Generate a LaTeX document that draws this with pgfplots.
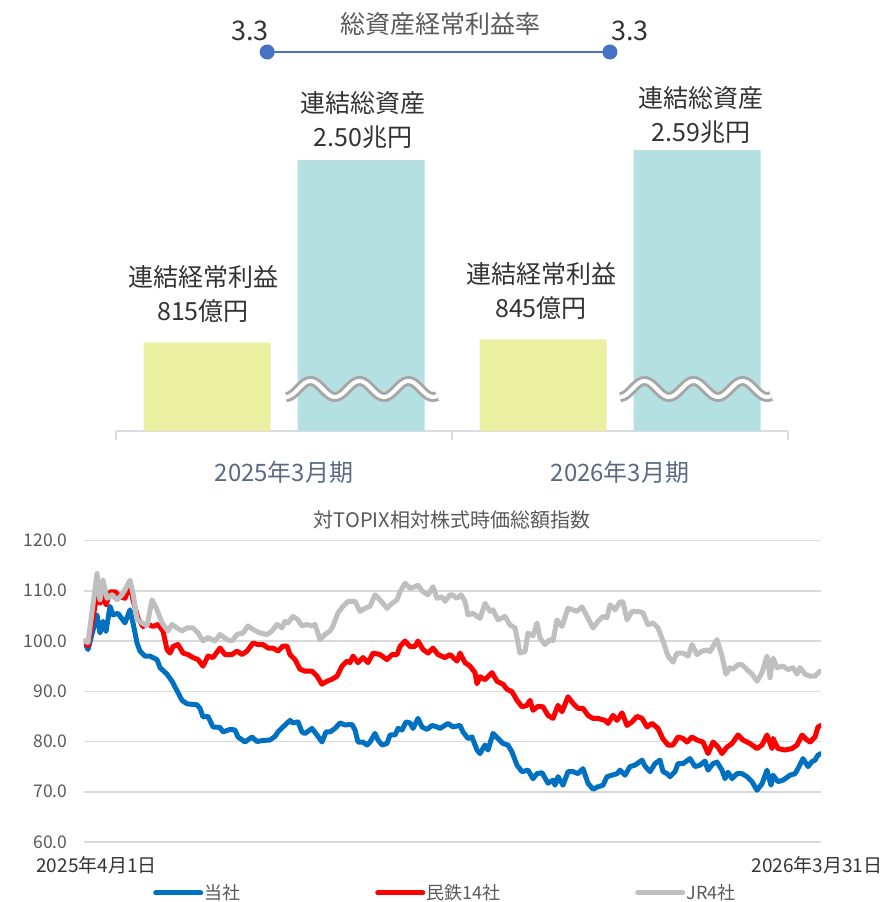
\documentclass[border=0pt]{standalone}
\usepackage{fontspec}
\setmainfont{Noto Sans CJK JP}
\usepackage{pgfplots}
\pgfplotsset{compat=1.18}

\definecolor{ybarc}{HTML}{EBEFA0}
\definecolor{cbarc}{HTML}{B4E0E2}
\definecolor{lineblue}{HTML}{4472C4}
\definecolor{axisgray}{HTML}{D9DDE3}
\definecolor{catgray}{HTML}{5A6A85}
\definecolor{textgray}{HTML}{595959}
\definecolor{darktext}{HTML}{333333}
\definecolor{gridgray}{HTML}{D9D9D9}
\definecolor{breakgray}{HTML}{A6A6A6}
\definecolor{tosha}{HTML}{0070C0}
\definecolor{mintetsu}{HTML}{FF0000}
\definecolor{jr}{HTML}{BFBFBF}

\begin{document}
\begin{tikzpicture}[x=1pt,y=1pt]
\path[use as bounding box] (0,0) rectangle (887,902);

% ---- top: bars with broken axis ----
\begin{axis}[
    at={(116pt,471pt)}, anchor=south west,
    scale only axis, width=672pt, height=400pt,
    xmin=-0.5, xmax=1.5, ymin=0, ymax=3687,
    ybar, bar width=127pt,
    axis y line=none, axis x line*=bottom,
    x axis line style={draw=axisgray, line width=1.5pt, -},
    xtick={-0.5,0.5,1.5}, xticklabels={},
    tick align=outside, major tick length=9pt,
    xtick style={draw=axisgray, line width=1.5pt},
    clip=false]
\addplot[fill=ybarc, draw=none, bar shift=-77pt] coordinates {(0,815) (1,845)};
\addplot[fill=cbarc, draw=none, bar shift=77pt] coordinates {(0,2500) (1,2590)};
\end{axis}

% break marks on the total-assets bars
\foreach \xs in {286,620} {
  \draw[breakgray, line width=10pt] plot[domain=0:151, samples=80, smooth] ({\xs+\x}, {513-8*cos(\x/49*360)});
  \draw[white, line width=4pt] plot[domain=0:151, samples=80, smooth] ({\xs+\x}, {513-8*cos(\x/49*360)});
}

% ratio line
\begin{axis}[
    at={(116pt,471pt)}, anchor=south west,
    scale only axis, width=672pt, height=400pt,
    xmin=-0.5, xmax=1.5, ymin=0, ymax=3.483,
    hide axis, clip=false]
\addplot[lineblue, line width=2pt, mark=*, mark size=6.5pt, mark options={fill=lineblue, draw=lineblue}]
  coordinates {(-0.05,3.3) (0.97,3.3)};
\node[darktext, font=\fontsize{27}{30}\selectfont, xshift=-17pt, yshift=21pt] at (axis cs:-0.05,3.3) {3.3};
\node[darktext, font=\fontsize{27}{30}\selectfont, xshift=20pt, yshift=21pt] at (axis cs:0.97,3.3) {3.3};
\end{axis}

\node[textgray, font=\fontsize{25}{30}\selectfont] at (440,878) {総資産経常利益率};

\begin{scope}[every node/.style={align=center, darktext, font=\fontsize{25}{34}\selectfont}]
\node at (203,608) {連結経常利益\\815億円};
\node at (363,782) {連結総資産\\2.50兆円};
\node at (541,611) {連結経常利益\\845億円};
\node at (701,787) {連結総資産\\2.59兆円};
\end{scope}

\node[catgray, font=\fontsize{24}{28}\selectfont] at (284,430) {2025年3月期};
\node[catgray, font=\fontsize{24}{28}\selectfont] at (620,430) {2026年3月期};

% ---- bottom: relative market cap index ----
\begin{axis}[
    at={(84pt,60pt)}, anchor=south west,
    scale only axis, width=737pt, height=301.5pt,
    xmin=84, xmax=821, ymin=60, ymax=120,
    ytick={60,70,80,90,100,110,120}, xtick=\empty,
    ymajorgrids, grid style={draw=gridgray, line width=1.5pt},
    axis line style={draw=none}, major tick length=0pt,
    /pgf/number format/.cd, fixed, fixed zerofill, precision=1, assume math mode=true,
    /pgfplots/.cd,
    yticklabel style={font=\fontsize{17.5}{20}\selectfont, text=textgray, xshift=-13pt},
    legend columns=3,
    legend style={draw=none, fill=none, at={(0.0896,-0.169)}, anchor=west,
      font=\fontsize{18}{20}\selectfont, text=textgray,
      nodes={inner xsep=1.5pt},
      /tikz/every even column/.append style={column sep=133pt}},
    legend image code/.code={\draw[#1] (0pt,0pt) -- (45pt,0pt);},
    every axis plot/.append style={line width=5pt, line join=round, line cap=round}]

\addplot[tosha] coordinates {
(84,100) (88,98.3) (97,105.2) (100,101.6) (103,103.9) (106,101.9) (110,106.9) (113,105.2) (118,105.5) (125,103.6)
(130,106.2) (133,103.6) (137,99.6) (140,98) (145,97) (150,97) (157,96.3) (160,94.7) (167,93.4) (172,92)
(177,90.1) (182,88.2) (187,87.5) (197,87.3) (200,86.6) (203,84.9) (208,85) (213,82.9) (220,82.8) (223,81.9)
(230,82.4) (235,82.3) (238,80.9) (245,79.9) (252,80.9) (257,80) (263,80.2) (270,80.3) (275,81) (278,81.9)
(283,82.9) (290,84.2) (293,83.7) (298,83.9) (302,81.9) (305,81.6) (312,82.6) (317,81.3) (322,79.9) (326,81.9)
(330,81.9) (335,82.6) (340,83.7) (345,83.3) (352,83.4) (355,82.3) (358,79.9) (363,79.9) (367,79.3) (370,79.9)
(375,81.6) (378,80.3) (382,79.3) (387,79.6) (390,81.3) (395,81.3) (398,82.6) (402,82.3) (406,83.9) (410,83.7)
(413,82.6) (418,84.6) (422,82.9) (427,82.4) (432,83.2) (437,82.9) (440,82.6) (448,83.6) (453,82.9) (460,83.2)
(463,81.9) (468,80.6) (472,80.9) (477,78.3) (480,77.6) (485,79.3) (488,78.3) (493,81.6) (498,80.6) (503,79.6)
(508,79.3) (512,77.9) (517,75.3) (522,74) (528,74.3) (533,72.6) (537,73.6) (542,73.8) (548,71.7) (553,72.3)
(555,71.3) (558,73) (563,71.3) (568,74) (573,74) (578,73.6) (583,74.6) (588,71.7) (593,70.5) (598,71)
(603,71.3) (607,73) (612,73.3) (617,73.6) (620,74.3) (625,73.3) (630,75) (635,75.3) (642,76.3) (645,75.1)
(650,74) (655,75.6) (660,76.3) (663,74) (667,73.6) (670,73) (675,74) (678,75.6) (683,75.6) (690,76.6)
(695,75) (700,75.3) (705,76.1) (708,74.3) (713,75.6) (717,75.9) (722,74.3) (725,72.6) (728,73.9) (732,72.6)
(737,73.6) (742,73.6) (747,73) (752,72) (757,70.3) (762,71.6) (767,74.3) (771,71.3) (773,73.3) (778,72)
(783,72.3) (790,73.3) (795,73.6) (798,74.6) (803,76.6) (808,75) (812,76) (815,76.3) (818,77.3) (821,77.6)
};
\addlegendentry{当社}

\addplot[mintetsu] coordinates {
(84,100) (88,99) (97,109.2) (100,107.5) (103,109.2) (106,107.2) (110,109.8) (115,109.8) (120,108.8) (125,108.5)
(130,111.1) (133,108.2) (138,104.5) (143,102.9) (148,103.3) (153,102.9) (158,103.3) (163,102) (167,98.3) (170,97.6)
(173,98.9) (178,99.3) (183,97.6) (188,97.3) (193,96.7) (198,96.3) (203,95) (208,97) (213,96.7) (220,98.6)
(225,97.3) (232,97.3) (237,98) (242,97.3) (247,98) (253,99.6) (258,99.3) (263,99.3) (268,98.6) (273,98.6)
(278,98) (283,99) (287,99) (290,97.3) (295,96.3) (300,94.4) (305,94) (312,94) (317,93) (322,91.4)
(327,92) (332,92.4) (337,93) (342,95) (347,96) (350,95.7) (353,97) (358,95.7) (363,96.7) (368,95.7)
(373,97.6) (380,97.3) (387,96.3) (392,97.3) (397,97.3) (400,98.9) (405,100) (410,98.9) (415,98.9) (418,100)
(423,98.3) (428,97.6) (433,98.6) (438,97.3) (445,96.7) (450,97.3) (457,96) (460,97.6) (465,95.7) (470,95)
(475,93.7) (477,91.5) (480,92.9) (485,92.3) (492,93.7) (497,92) (503,91.4) (507,90.4) (512,89.9) (517,88.2)
(522,86.9) (527,87.2) (530,88.2) (533,86.2) (538,87) (543,86.9) (548,85.2) (553,84.6) (558,87.2) (562,85.9)
(568,88.9) (573,87.6) (578,86.6) (583,86.6) (588,85.2) (593,84.6) (598,84.6) (605,84.2) (608,83.6) (613,85.2)
(617,84.2) (622,85.7) (627,83.2) (632,83.9) (637,85) (642,84.6) (647,82.9) (652,83.6) (658,82.6) (663,80.5)
(668,79.3) (673,79.3) (678,80.9) (683,80.6) (687,79.9) (692,80.9) (697,80.3) (703,79.9) (708,77.6) (713,79.9)
(718,78.9) (722,77.6) (727,78.9) (732,79.6) (738,81.3) (743,80.3) (750,79.6) (757,78.6) (762,79.3) (767,81.3)
(772,78.6) (773,80.6) (778,78.6) (785,78.3) (792,78.6) (797,79.3) (802,81.3) (807,80.3) (810,79.9) (815,80.9)
(818,82.9) (821,83.2)
};
\addlegendentry{民鉄14社}

\addplot[jr] coordinates {
(84,100) (88,99.7) (97,113.4) (100,108.2) (103,112.1) (107,108.5) (112,109.2) (117,108.2) (122,109.2) (125,110.2)
(130,112.1) (133,109.5) (137,104.3) (142,103.6) (147,103) (152,108.2) (157,106.2) (162,103.6) (168,102) (172,103.3)
(177,102.6) (182,102) (187,102.6) (193,102.6) (198,101.6) (203,100) (208,100.7) (215,100) (220,101.3) (227,100.3)
(232,100) (237,101.3) (243,101.6) (248,103) (253,102.3) (260,101.6) (267,101.3) (272,102) (277,103.3) (282,102.6)
(285,103.9) (288,103.6) (293,104.9) (298,104.2) (302,103) (307,103.3) (312,103) (315,103.3) (320,100.3) (325,101.3)
(330,102) (333,103) (338,105.6) (343,106.9) (348,107.9) (355,107.9) (360,105.9) (365,106.5) (370,106.9) (375,109.2)
(380,108.2) (387,106.5) (392,107.5) (397,108.2) (400,109.8) (405,111.5) (410,110.5) (415,110.8) (418,111.1) (423,109.8)
(428,109.2) (433,110.8) (437,108.5) (442,108.8) (445,107.9) (450,109.2) (452,109.2) (457,108.5) (461,109.2) (465,107.9)
(468,105.2) (473,105.5) (480,104.5) (485,107.5) (490,105.9) (493,106.2) (498,104.2) (505,104.9) (510,103.2) (515,102.6)
(520,97.6) (525,97.9) (528,101.6) (533,101) (537,103.6) (540,100.6) (545,99.3) (550,100.3) (553,100) (557,104.2)
(562,102.9) (568,106.5) (573,106.2) (577,105.9) (582,106.8) (587,104.9) (593,102.6) (598,103.9) (603,104.9) (607,104.6)
(610,107.2) (615,106.2) (620,107.8) (623,107.8) (627,104.2) (632,105.9) (638,105.9) (643,105.6) (648,103.2) (653,103.6)
(658,102.6) (663,100) (668,97) (673,95.8) (677,97.6) (683,97.6) (688,97) (692,99.3) (697,97.3) (702,98)
(707,98.2) (710,97.9) (717,100.3) (722,97) (726,93.4) (730,94.7) (733,94.4) (738,95.3) (742,95.3) (747,94.3)
(752,93.4) (757,92) (762,93.7) (767,97) (770,92.7) (773,96.6) (777,94.7) (783,95) (788,94.3) (793,94.7)
(797,93.4) (800,94.7) (805,93.4) (810,93) (815,93) (820,94)
};
\addlegendentry{JR4社}
\end{axis}

\node[textgray, font=\fontsize{20}{24}\selectfont] at (452,382) {対TOPIX相対株式時価総額指数};
\node[darktext, font=\fontsize{19}{22}\selectfont] at (96.5,37) {2025年4月1日};
\node[darktext, font=\fontsize{19}{22}\selectfont, anchor=east] at (886,37) {2026年3月31日};

\end{tikzpicture}
\end{document}
